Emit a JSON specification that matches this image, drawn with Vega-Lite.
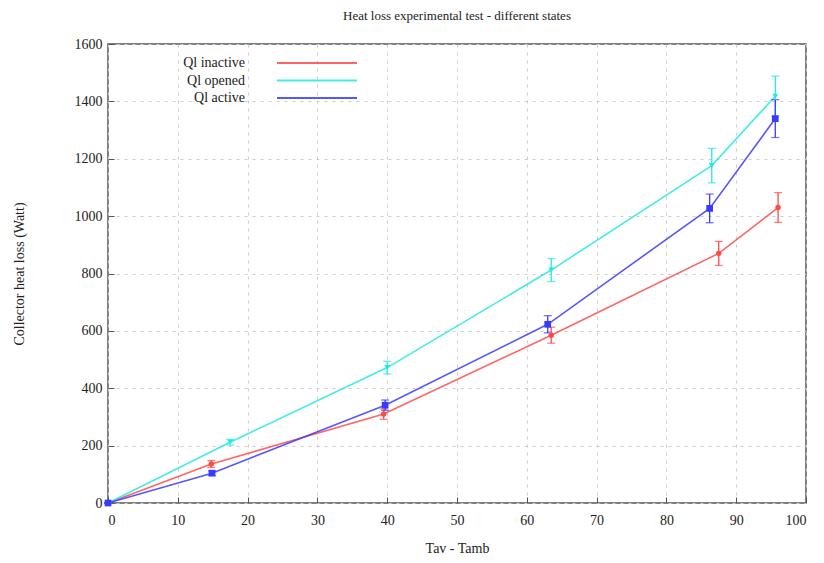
{
  "$schema": "https://vega.github.io/schema/vega-lite/v6.json",
  "autosize": {"type": "none"},
  "width": 698,
  "height": 459,
  "padding": {"left": 108, "top": 44, "right": 18, "bottom": 60},
  "background": "white",
  "title": {"text": "Heat loss experimental test - different states", "font": "Liberation Serif", "fontSize": 13, "fontWeight": "normal", "color": "#222", "offset": 14},
  "data": {"values": [
    {"series": "Ql inactive", "x": 0, "y": 0, "err": 0},
    {"series": "Ql inactive", "x": 14.8, "y": 136, "err": 12},
    {"series": "Ql inactive", "x": 39.5, "y": 310, "err": 18},
    {"series": "Ql inactive", "x": 63.5, "y": 585, "err": 28},
    {"series": "Ql inactive", "x": 87.5, "y": 870, "err": 42},
    {"series": "Ql inactive", "x": 96, "y": 1030, "err": 52},
    {"series": "Ql opened", "x": 0, "y": 0, "err": 0},
    {"series": "Ql opened", "x": 17.5, "y": 212, "err": 10},
    {"series": "Ql opened", "x": 40, "y": 472, "err": 22},
    {"series": "Ql opened", "x": 63.5, "y": 812, "err": 40},
    {"series": "Ql opened", "x": 86.5, "y": 1176, "err": 60},
    {"series": "Ql opened", "x": 95.6, "y": 1418, "err": 70},
    {"series": "Ql active", "x": 0, "y": 0, "err": 0},
    {"series": "Ql active", "x": 14.9, "y": 104, "err": 8},
    {"series": "Ql active", "x": 39.7, "y": 341, "err": 18},
    {"series": "Ql active", "x": 63, "y": 623, "err": 30},
    {"series": "Ql active", "x": 86.2, "y": 1027, "err": 50},
    {"series": "Ql active", "x": 95.6, "y": 1340, "err": 66}
  ]},
  "config": {
    "view": {"stroke": "#555", "strokeWidth": 1.5},
    "axis": {
      "labelFont": "Liberation Serif", "labelFontSize": 14, "labelColor": "#222",
      "titleFont": "Liberation Serif", "titleFontSize": 14, "titleFontWeight": "normal", "titleColor": "#222",
      "domain": false, "tickColor": "#555", "tickSize": -6,
      "gridColor": "#cccccc", "gridDash": [3, 5], "gridWidth": 1, "format": "d"
    }
  },
  "encoding": {
    "x": {"field": "x", "type": "quantitative", "scale": {"domain": [0, 100], "nice": false},
      "axis": {"values": [0,10,20,30,40,50,60,70,80,90,100], "title": "Tav - Tamb", "labelPadding": 16, "titlePadding": 14}},
    "y": {"field": "y", "type": "quantitative", "scale": {"domain": [0, 1600], "nice": false},
      "axis": {"values": [0,200,400,600,800,1000,1200,1400,1600], "title": "Collector heat loss (Watt)", "labelPadding": 12, "titlePadding": 48}},
    "color": {"field": "series", "type": "nominal",
      "scale": {"domain": ["Ql inactive", "Ql opened", "Ql active"], "range": ["#ff4a4a", "#22e8e8", "#3a3aff"]},
      "legend": {"title": null, "orient": "none", "legendX": 202, "legendY": 12,
        "symbolType": "M-8,0H8", "symbolSize": 100, "symbolStrokeWidth": 2, "symbolOpacity": 0.85,
        "labelFont": "Liberation Serif", "labelFontSize": 14, "labelColor": "#222",
        "labelAlign": "right", "labelOffset": -79,
        "rowPadding": 3.5, "padding": 0}}
  },
  "layer": [
    {
      "mark": {"type": "line", "strokeWidth": 1.6, "opacity": 0.85},
      "encoding": {
        "detail": {"field": "series"}
      }
    },
    {
      "mark": {"type": "errorbar", "ticks": {"size": 8}, "thickness": 1.3},
      "encoding": {
        "yError": {"field": "err"}
      }
    },
    {
      "transform": [{"filter": "datum.series === 'Ql inactive'"}],
      "mark": {"type": "point", "filled": true, "opacity": 1, "shape": "circle", "size": 30}
    },
    {
      "transform": [{"filter": "datum.series === 'Ql opened'"}],
      "mark": {"type": "point", "filled": true, "opacity": 1, "shape": "triangle-down", "size": 35}
    },
    {
      "transform": [{"filter": "datum.series === 'Ql active'"}],
      "mark": {"type": "point", "filled": true, "opacity": 1, "shape": "square", "size": 45}
    }
  ]
}
